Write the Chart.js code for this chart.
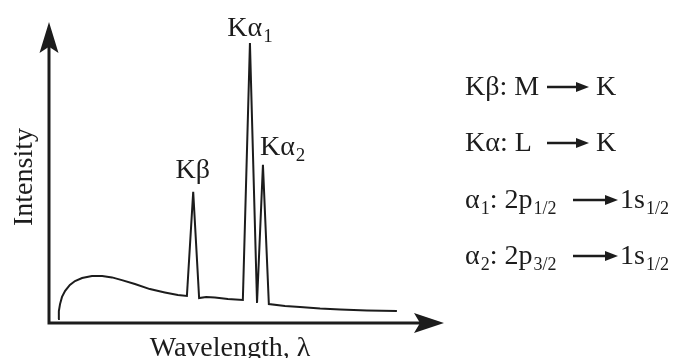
<!DOCTYPE html>
<html><head><meta charset="utf-8">
<script src="https://cdn.jsdelivr.net/npm/chart.js@4"></script>
<style>html,body{margin:0;padding:0;background:#fff}#wrap{width:676px;height:358px;position:relative}</style>
</head><body><div id="wrap"><canvas id="c"></canvas></div>
<script>
// Spectrum (arbitrary units, 0..100 on both axes)
const wavelength = [2.3, 2.5, 2.8, 3.3, 4.1, 5.3, 6.6, 8.4, 10.9, 13.5, 16.0, 18.5, 21.8, 25.6, 29.4, 32.7, 35.0,
  36.6, 38.1, 39.9, 42.1, 45.4, 49.2, 51.0, 52.8, 54.3, 55.8, 59.9, 63.7, 68.8, 73.9, 80.7, 88.3];
const intensity = [1.3, 4.0, 6.3, 8.7, 10.7, 12.7, 14.0, 15.0, 15.7, 15.7, 15.2, 14.3, 13.0, 11.3, 10.2, 9.3, 9.0,
  43.7, 8.3, 8.7, 8.5, 8.0, 7.7, 93.3, 6.7, 52.7, 6.3, 5.7, 5.3, 4.8, 4.5, 4.2, 4.0];
// Characteristic lines
const peakNames = ['Kβ', 'Kα', 'Kα'];
const peakSubs = ['', '1', '2'];
const peakIndex = [17, 23, 25];
// Axis titles
const xTitle = 'Wavelength, λ';
const yTitle = 'Intensity';
// Transition notes: [main, sub] pieces before arrow, and after arrow
const transitionsBefore = [
  [['Kβ: M', '']],
  [['Kα: L', '']],
  [['α', '1'], [': 2p', '1/2']],
  [['α', '2'], [': 2p', '3/2']]
];
const transitionsAfter = [
  [['K', '']],
  [['K', '']],
  [['1s', '1/2']],
  [['1s', '1/2']]
];

const FONT = '"Liberation Serif", "Times New Roman", serif';
const INK = '#1c1c1c';

function drawPieces(ctx, pieces, x, y, big, small, subDrop) {
  for (const [m, s] of pieces) {
    ctx.font = big + 'px ' + FONT;
    ctx.fillText(m, x, y);
    x += ctx.measureText(m).width;
    if (s) {
      ctx.font = small + 'px ' + FONT;
      ctx.fillText(s, x + 1, y + subDrop);
      x += ctx.measureText(s).width + 1;
    }
  }
  return x;
}

function arrowHead(ctx, tipX, tipY, dir, len, half) {
  ctx.beginPath();
  if (dir === 'up') {
    ctx.moveTo(tipX, tipY);
    ctx.lineTo(tipX + half, tipY + len);
    ctx.lineTo(tipX, tipY + len * 0.8);
    ctx.lineTo(tipX - half, tipY + len);
  } else {
    ctx.moveTo(tipX, tipY);
    ctx.lineTo(tipX - len, tipY - half);
    ctx.lineTo(tipX - len * 0.8, tipY);
    ctx.lineTo(tipX - len, tipY + half);
  }
  ctx.closePath();
  ctx.fill();
}

const decor = {
  id: 'decor',
  afterDatasetsDraw(chart) {
    const ctx = chart.ctx;
    const a = chart.chartArea;
    const xs = chart.scales.x, ys = chart.scales.y;
    ctx.save();
    ctx.fillStyle = INK;
    ctx.strokeStyle = INK;
    // axes
    ctx.lineWidth = 3;
    ctx.beginPath();
    ctx.moveTo(a.left, 45);
    ctx.lineTo(a.left, a.bottom);
    ctx.lineTo(436, a.bottom);
    ctx.stroke();
    arrowHead(ctx, a.left, 22, 'up', 31, 9.5);
    arrowHead(ctx, 444, a.bottom, 'right', 30, 10);

    // axis titles
    ctx.font = '28px ' + FONT;
    ctx.textAlign = 'center';
    ctx.textBaseline = 'alphabetic';
    ctx.fillText(xTitle, 230, 356);
    ctx.save();
    ctx.translate(32, 177);
    ctx.rotate(-Math.PI / 2);
    ctx.fillText(yTitle, 0, 0);
    ctx.restore();

    // peak labels
    ctx.textAlign = 'left';
    const offs = [[-0.5, -14, 'c'], [0, -7, 'c'], [-3, -10, 'l']];
    peakIndex.forEach((idx, k) => {
      const px = xs.getPixelForValue(wavelength[idx]);
      const py = ys.getPixelForValue(intensity[idx]);
      ctx.font = '28px ' + FONT;
      const w = ctx.measureText(peakNames[k]).width;
      ctx.font = '19px ' + FONT;
      const ws = peakSubs[k] ? ctx.measureText(peakSubs[k]).width + 1 : 0;
      const [dx, dy, al] = offs[k];
      const x0 = al === 'c' ? px + dx - (w + ws) / 2 : px + dx;
      drawPieces(ctx, [[peakNames[k], peakSubs[k]]], x0, py + dy, 28, 19, 6);
    });

    // transition notes
    const baselines = [95, 151, 208, 264];
    const arrowFrom = [547, 547, 573, 573];
    const arrowTo = [589, 589, 618, 618];
    const afterX = [596, 596, 620, 620];
    baselines.forEach((b, i) => {
      drawPieces(ctx, transitionsBefore[i], 465, b, 28, 18, 6);
      const ay = b - 8;
      ctx.lineWidth = 2.6;
      ctx.beginPath();
      ctx.moveTo(arrowFrom[i], ay);
      ctx.lineTo(arrowTo[i] - 8, ay);
      ctx.stroke();
      ctx.beginPath();
      ctx.moveTo(arrowTo[i], ay);
      ctx.lineTo(arrowTo[i] - 13, ay - 5);
      ctx.lineTo(arrowTo[i] - 13, ay + 5);
      ctx.closePath();
      ctx.fill();
      drawPieces(ctx, transitionsAfter[i], afterX[i], b, 28, 18, 6);
    });
    ctx.restore();
  }
};

new Chart(document.getElementById('c'), {
  type: 'line',
  data: {
    labels: wavelength,
    datasets: [{
      data: wavelength.map((w, i) => ({x: w, y: intensity[i]})),
      borderColor: INK,
      borderWidth: 2,
      pointRadius: 0,
      tension: 0,
      fill: false,
      borderJoinStyle: 'miter'
    }]
  },
  options: {
    responsive: true,
    maintainAspectRatio: false,
    animation: false,
    layout: {padding: {left: 49, right: 233, top: 23, bottom: 35}},
    plugins: {legend: {display: false}, tooltip: {enabled: false}},
    scales: {
      x: {type: 'linear', min: 0, max: 100, display: false},
      y: {type: 'linear', min: 0, max: 100, display: false}
    }
  },
  plugins: [decor]
});
</script>
</body></html>
